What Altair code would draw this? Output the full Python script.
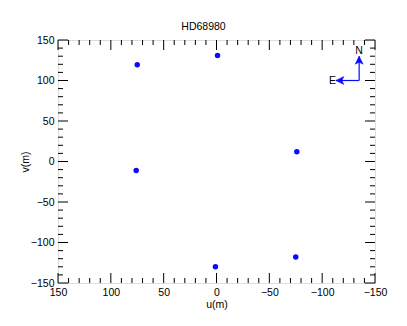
import altair as alt
import pandas as pd

# Data
u_vals = [75, -1, -76, 76, 1, -75]
v_vals = [119.5, 131, 12, -11, -130, -118]

# axis ticks
major_ticks = [-150, -100, -50, 0, 50, 100, 150]
minor_ticks = [t for t in range(-150, 151, 10) if t % 50 != 0]

# compass annotation (data units)
compass_origin = (-135, 100)
compass_n_tip = (-135, 130)
compass_e_tip = (-113, 100)

W, H = 317, 243
FONT = "Liberation Sans"
BLUE = "#0a0aff"

pts = pd.DataFrame({"u": u_vals, "v": v_vals})
xs = alt.Scale(domain=[150, -150], nice=False, zero=False)
ys = alt.Scale(domain=[-150, 150], nice=False, zero=False)

xaxis = alt.Axis(values=major_ticks, ticks=False, domain=False, grid=False,
                 labelPadding=4, labelFont=FONT, labelFontSize=10.5, labelColor="black",
                 labelFlush=False, labelOverlap=False,
                 title="u(m)", titleFont=FONT, titleFontSize=10.5, titleFontWeight="normal",
                 titleColor="black", titlePadding=2)
yaxis = alt.Axis(values=major_ticks, ticks=False, domain=False, grid=False,
                 labelPadding=4, labelFont=FONT, labelFontSize=10.5, labelColor="black",
                 labelFlush=False, labelOverlap=False,
                 title="v(m)", titleFont=FONT, titleFontSize=10.5, titleFontWeight="normal",
                 titleColor="black", titlePadding=0)

points = alt.Chart(pts).mark_circle(size=30, color=BLUE, opacity=1).encode(
    x=alt.X("u:Q", scale=xs, axis=xaxis),
    y=alt.Y("v:Q", scale=ys, axis=yaxis),
)

maj = pd.DataFrame({"t": major_ticks})
mnr = pd.DataFrame({"t": minor_ticks})

def tick_layers(df, L):
    c = alt.Chart(df).mark_rule(color="black", strokeWidth=1)
    bottom = c.encode(x=alt.X("t:Q", scale=xs), y=alt.value(H), y2=alt.value(H - L))
    top = c.encode(x=alt.X("t:Q", scale=xs), y=alt.value(0), y2=alt.value(L))
    left = c.encode(y=alt.Y("t:Q", scale=ys), x=alt.value(0), x2=alt.value(L))
    right = c.encode(y=alt.Y("t:Q", scale=ys), x=alt.value(W), x2=alt.value(W - L))
    return [bottom, top, left, right]

ticks = tick_layers(maj, 10) + tick_layers(mnr, 5)

comp = pd.DataFrame({
    "x": [compass_origin[0], compass_origin[0]],
    "y": [compass_origin[1], compass_origin[1]],
    "x2": [compass_n_tip[0], compass_e_tip[0]],
    "y2": [compass_n_tip[1], compass_e_tip[1]],
})
comp_lines = alt.Chart(comp).mark_rule(color=BLUE, strokeWidth=1.2).encode(
    x=alt.X("x:Q", scale=xs), y=alt.Y("y:Q", scale=ys), x2="x2:Q", y2="y2:Q")

heads = pd.DataFrame({
    "x": [compass_n_tip[0], compass_e_tip[0]],
    "y": [compass_n_tip[1], compass_e_tip[1]],
    "ang": [0, 270],
})
# arrowhead with its tip at the symbol origin
arrow_shape = "M0,0 L0.8,1.6 L0,1.2 L-0.8,1.6 Z"
comp_heads = alt.Chart(heads).mark_point(shape=arrow_shape, filled=True, fill=BLUE,
                                         stroke=BLUE, strokeWidth=0.5,
                                         size=100, opacity=1).encode(
    x=alt.X("x:Q", scale=xs), y=alt.Y("y:Q", scale=ys),
    angle=alt.Angle("ang:Q", scale=None))

labels = pd.DataFrame({
    "x": [compass_n_tip[0], compass_e_tip[0]],
    "y": [compass_n_tip[1], compass_e_tip[1]],
    "txt": ["N", "E"],
})
n_lab = alt.Chart(labels.iloc[[0]]).mark_text(font=FONT, fontSize=10.5, color="black",
                                             dy=-5, baseline="middle").encode(
    x=alt.X("x:Q", scale=xs), y=alt.Y("y:Q", scale=ys), text="txt:N")
e_lab = alt.Chart(labels.iloc[[1]]).mark_text(font=FONT, fontSize=10.5, color="black",
                                             dx=0, align="right", baseline="middle").encode(
    x=alt.X("x:Q", scale=xs), y=alt.Y("y:Q", scale=ys), text="txt:N")

chart = alt.layer(*ticks, comp_lines, comp_heads, n_lab, e_lab, points).properties(
    width=W, height=H,
    title=alt.TitleParams("HD68980", font=FONT, fontSize=10.5, fontWeight="normal",
                          color="black", anchor="middle", dx=-13, offset=3),
    autosize=alt.AutoSizeParams(type="none"),
    padding={"left": 50, "top": 32, "right": 15, "bottom": 30},
).configure_view(stroke="black", strokeWidth=1).configure(background="white")

chart.save("out.html", embed_options={"renderer": "svg", "actions": False})
